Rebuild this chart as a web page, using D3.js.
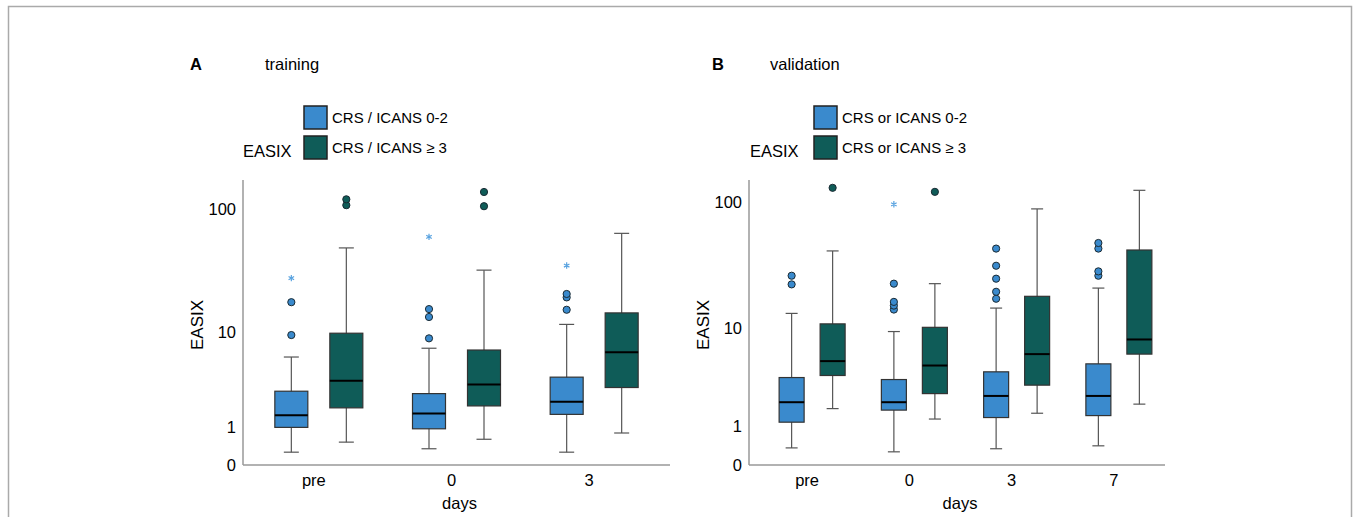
<!DOCTYPE html>
<html lang="en">
<head>
<meta charset="utf-8">
<script src="https://d3js.org/d3.v7.min.js"></script>
<style type="text/css">
body {
	margin: 0;
	background-color: #ffffff;
	font-family: "Liberation Sans", Arial, sans-serif;
}
svg text {
	fill: #000;
}
</style>
</head>
<body>
<script type="text/javascript">

// ---- data (EASIX, boxplot summaries) ----
// stats per day: [lower whisker, Q1, median, Q3, upper whisker]
var daysTrain = ["pre", "0", "3"];
var trainLowStats  = [[0.26, 0.97, 1.45, 2.78, 6.0], [0.34, 0.92, 1.53, 2.62, 7.2], [0.26, 1.49, 2.12, 3.87, 11.6]];
var trainHighStats = [[0.51, 1.80, 3.56, 9.75, 49], [0.59, 1.90, 3.27, 6.94, 32.5], [0.78, 3.04, 6.62, 14.5, 64]];
var trainLowOut    = [[9.4, 17.8], [8.8, 13.4, 15.6], [15.4, 19.5, 20.8]];
var trainHighOut   = [[107, 119], [105, 136], []];
var trainLowExt    = [[28], [60], [35.4]];
var trainHighExt   = [[], [], []];

var daysValid = ["pre", "0", "3", "7"];
var validLowStats  = [[0.35, 1.12, 2.01, 3.64, 13.3], [0.26, 1.62, 2.01, 3.48, 9.4], [0.33, 1.30, 2.36, 4.13, 14.7], [0.40, 1.38, 2.36, 4.9, 21.3]];
var validHighStats = [[1.69, 3.81, 5.19, 10.9, 41.8], [1.24, 2.50, 4.73, 10.2, 23.1], [1.48, 3.06, 6.0, 18.3, 88.5], [1.91, 6.0, 8.05, 42.5, 123]];
var validLowOut    = [[22.8, 26.7], [14.3, 15.4, 16.5, 23.1], [17.5, 19.9, 25.3, 32.0, 43.6], [26.7, 28.9, 43.6, 48.2]];
var validHighOut   = [[128.5], [119.7], [], []];
var validLowExt    = [[], [96], [], []];
var validHighExt   = [[], [], [], []];

var yTicks = [0, 1, 10, 100];

var lowColor = "#3a8acd";
var highColor = "#0f5c58";
var starColor = "#5aa3e0";

var width = 1356, height = 517;

var svg = d3.select("body")
	.append("svg")
	.attr("width", width)
	.attr("height", height);

// frame round the figure
svg.append("path")
	.attr("d", "M8.5," + height + "V6.5H1351.5V" + height)
	.style("fill", "none")
	.style("stroke", "#aaa")
	.style("stroke-width", 1.5);

drawPanel({
	letter: "A", title: "training", x0: 243, xEnd: 670,
	letterX: 190, titleX: 265, legendX: 304, easixX: 243,
	bandRange: [250, 663], yMax: 169, boxW: 33, offset: 27.5, capW: 15,
	labels: ["CRS / ICANS 0-2", "CRS / ICANS \u2265 3"],
	days: daysTrain,
	low: trainLowStats, high: trainHighStats,
	lowOut: trainLowOut, highOut: trainHighOut,
	lowExt: trainLowExt, highExt: trainHighExt
});

drawPanel({
	letter: "B", title: "validation", x0: 749, xEnd: 1165,
	letterX: 712, titleX: 770, legendX: 814, easixX: 750,
	bandRange: [761, 1170], yMax: 147.6, boxW: 25, offset: 20.5, capW: 12,
	labels: ["CRS or ICANS 0-2", "CRS or ICANS \u2265 3"],
	days: daysValid,
	low: validLowStats, high: validHighStats,
	lowOut: validLowOut, highOut: validHighOut,
	lowExt: validLowExt, highExt: validHighExt
});

function drawPanel(p) {

	var yBase = 465, yTop = 180;
	var g = svg.append("g");

	// y is log(1 + x), so 0 has a place on the axis
	var y = d3.scaleSymlog().constant(1)
		.domain([0, p.yMax])
		.range([yBase, yTop]);

	var x = d3.scaleBand()
		.domain(p.days)
		.range(p.bandRange);

	// heading
	g.append("text")
		.attr("x", p.letterX)
		.attr("y", 70)
		.style("font-size", "16.5px")
		.style("font-weight", "bold")
		.text(p.letter);
	g.append("text")
		.attr("x", p.titleX)
		.attr("y", 70)
		.style("font-size", "16.5px")
		.text(p.title);

	// legend
	var lx = p.legendX;
	[lowColor, highColor].forEach(function(c, i) {
		g.append("rect")
			.attr("x", lx)
			.attr("y", 106 + i * 30)
			.attr("width", 23)
			.attr("height", 23)
			.style("fill", c)
			.style("stroke", "#222")
			.style("stroke-width", 1.5);
		g.append("text")
			.attr("x", lx + 28)
			.attr("y", 123 + i * 30)
			.style("font-size", "15px")
			.text(p.labels[i]);
	});
	g.append("text")
		.attr("x", p.easixX)
		.attr("y", 157)
		.style("font-size", "16.5px")
		.text("EASIX");

	// axes
	g.append("line")
		.attr("x1", p.x0).attr("x2", p.x0)
		.attr("y1", yTop).attr("y2", yBase)
		.style("stroke", "#999").style("stroke-width", 1.5);
	g.append("line")
		.attr("x1", p.x0).attr("x2", p.xEnd)
		.attr("y1", yBase).attr("y2", yBase)
		.style("stroke", "#999").style("stroke-width", 1.5);

	g.selectAll("text.ytick")
		.data(yTicks)
		.enter()
		.append("text")
		.attr("class", "ytick")
		.attr("x", p.x0 - 7)
		.attr("y", function(d) { return y(d) + 6; })
		.attr("text-anchor", "end")
		.style("font-size", "16.5px")
		.text(function(d) { return d; });

	g.append("text")
		.attr("transform", "translate(" + (p.x0 - 40) + ",325) rotate(-90)")
		.attr("text-anchor", "middle")
		.style("font-size", "17px")
		.text("EASIX");

	g.selectAll("text.xtick")
		.data(p.days)
		.enter()
		.append("text")
		.attr("class", "xtick")
		.attr("x", function(d) { return x(d) + x.bandwidth() / 2 - 5; })
		.attr("y", 486)
		.attr("text-anchor", "middle")
		.style("font-size", "16.5px")
		.text(function(d) { return d; });

	g.append("text")
		.attr("x", (p.x0 + p.xEnd) / 2 + 3)
		.attr("y", 509)
		.attr("text-anchor", "middle")
		.style("font-size", "16.5px")
		.text("days");

	// boxes
	var groups = [
		{ stats: p.low, out: p.lowOut, ext: p.lowExt, color: lowColor, dx: -p.offset },
		{ stats: p.high, out: p.highOut, ext: p.highExt, color: highColor, dx: p.offset }
	];

	groups.forEach(function(grp) {
		p.days.forEach(function(day, i) {
			var s = grp.stats[i];
			var cx = x(day) + x.bandwidth() / 2 + grp.dx;

			// whiskers
			g.append("line")
				.attr("x1", cx).attr("x2", cx)
				.attr("y1", y(s[0])).attr("y2", y(s[4]))
				.style("stroke", "#555").style("stroke-width", 1.2);
			[s[0], s[4]].forEach(function(v) {
				g.append("line")
					.attr("x1", cx - p.capW / 2).attr("x2", cx + p.capW / 2)
					.attr("y1", y(v)).attr("y2", y(v))
					.style("stroke", "#555").style("stroke-width", 1.2);
			});

			g.append("rect")
				.attr("x", cx - p.boxW / 2)
				.attr("y", y(s[3]))
				.attr("width", p.boxW)
				.attr("height", y(s[1]) - y(s[3]))
				.style("fill", grp.color)
				.style("stroke", "#333")
				.style("stroke-width", 1.2);

			g.append("line")
				.attr("x1", cx - p.boxW / 2).attr("x2", cx + p.boxW / 2)
				.attr("y1", y(s[2])).attr("y2", y(s[2]))
				.style("stroke", "#000").style("stroke-width", 2);

			// outliers and extremes
			g.selectAll(null)
				.data(grp.out[i])
				.enter()
				.append("circle")
				.attr("cx", cx)
				.attr("cy", function(v) { return y(v); })
				.attr("r", 3.6)
				.style("fill", grp.color)
				.style("stroke", "#1a2a33")
				.style("stroke-width", 1);

			g.selectAll(null)
				.data(grp.ext[i])
				.enter()
				.append("path")
				.attr("d", d3.symbol().type(d3.symbolAsterisk).size(28))
				.attr("transform", function(v) { return "translate(" + cx + "," + y(v) + ")"; })
				.style("fill", "none")
				.style("stroke", starColor)
				.style("stroke-width", 1.2);
		});
	});
}

</script>
</body>
</html>
